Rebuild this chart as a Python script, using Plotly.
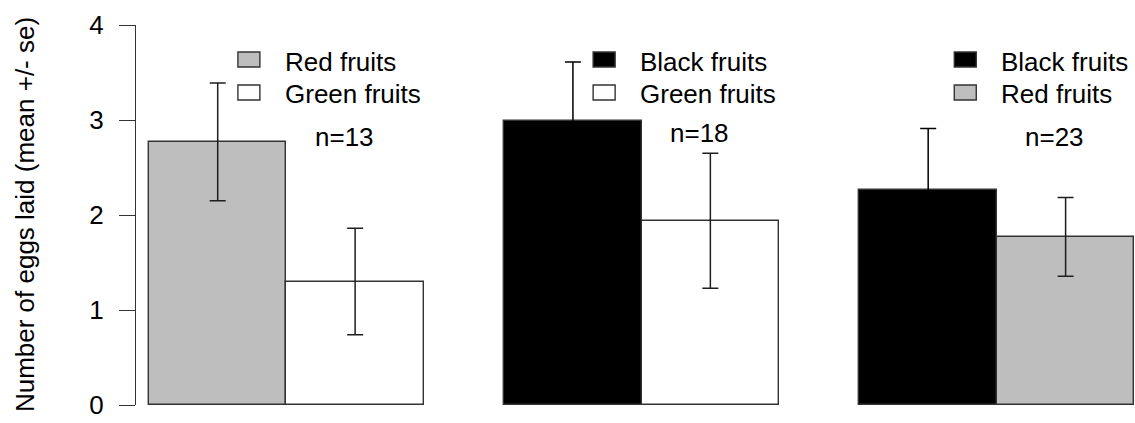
import plotly.graph_objects as go

# ---- data ----
group_n = ["n=13", "n=18", "n=23"]
fruit_types = [["Red fruits", "Green fruits"],
               ["Black fruits", "Green fruits"],
               ["Black fruits", "Red fruits"]]
means = [[2.77, 1.30], [2.99, 1.94], [2.26, 1.77]]
ses = [[0.62, 0.56], [0.62, 0.71], [0.65, 0.415]]
yticks = [0, 1, 2, 3, 4]
y_title = "Number of eggs laid (mean +/- se)"

# ---- style ----
fill = {"Red fruits": "#bebebe", "Green fruits": "#ffffff", "Black fruits": "#000000"}
errcol = {"Red fruits": "#1e1e1e", "Green fruits": "#1e1e1e", "Black fruits": "#000000"}
FONT = "Liberation Sans, Arial, sans-serif"
FS = 26
EDGE = "#333333"
TXT = "#000000"
GAP = 0.585  # space between groups, in bar widths

fig = go.Figure()
for fruit in ["Red fruits", "Green fruits", "Black fruits"]:
    xs, ys, es = [], [], []
    for g in range(3):
        for j in range(2):
            if fruit_types[g][j] == fruit:
                xs.append(g * (2 + GAP) + j + 0.5)
                ys.append(means[g][j])
                es.append(ses[g][j])
    fig.add_trace(go.Bar(
        x=xs, y=ys, width=1.0, name=fruit,
        marker=dict(color=fill[fruit], line=dict(color=EDGE, width=1.4)),
        error_y=dict(type="data", array=es, visible=True, color=errcol[fruit],
                     thickness=1.5, width=8),
        showlegend=False, hoverinfo="skip",
    ))

shapes, annos = [], []
# legend/label layout offsets relative to each group's left edge (bar-width units)
leg_box = [(0.647, 0.807), (0.647, 0.807), (0.69, 0.85)]
leg_txt = [0.975, 0.975, 1.018]
row_box = [(3.558, 3.716), (3.21, 3.368)]
row_txt = [3.61, 3.27]
n_y = [2.82, 2.86, 2.82]
for g in range(3):
    left = g * (2 + GAP)
    for j in range(2):
        shapes.append(dict(type="rect", xref="x", yref="y",
                           x0=left + leg_box[g][0], x1=left + leg_box[g][1],
                           y0=row_box[j][0], y1=row_box[j][1],
                           fillcolor=fill[fruit_types[g][j]],
                           line=dict(color=EDGE, width=1.4)))
        annos.append(dict(x=left + leg_txt[g], y=row_txt[j], xref="x", yref="y",
                          text=fruit_types[g][j], showarrow=False, xanchor="left",
                          yanchor="middle", font=dict(family=FONT, size=FS, color=TXT)))
    annos.append(dict(x=left + 1.42, y=n_y[g], xref="x", yref="y", text=group_n[g],
                      showarrow=False, xanchor="center", yanchor="middle",
                      font=dict(family=FONT, size=FS, color=TXT)))

annos.append(dict(x=-0.111, y=0.5, xref="paper", yref="paper", text=y_title, textangle=-90,
                  xanchor="center", yanchor="middle",
                  showarrow=False, font=dict(family=FONT, size=FS, color=TXT)))

fig.update_layout(
    width=1135, height=423,
    margin=dict(l=136, r=0, t=25, b=18),
    paper_bgcolor="white", plot_bgcolor="white",
    shapes=shapes, annotations=annos,
    barmode="overlay", bargap=0,
    xaxis=dict(range=[-0.0945, 7.175], visible=False, showgrid=False, zeroline=False),
    yaxis=dict(range=[0, 4], tickvals=yticks, ticks="outside", ticklen=16, tickwidth=1.4,
               tickcolor=EDGE, showline=True, linecolor=EDGE, linewidth=1.4,
               showgrid=False, zeroline=False, ticklabelstandoff=10,
               tickfont=dict(family=FONT, size=FS, color=TXT)),
    font=dict(family=FONT),
)

fig.write_html("out.html", config={"displayModeBar": False},
               post_script="document.body.style.margin='0';document.body.style.padding='0';")
